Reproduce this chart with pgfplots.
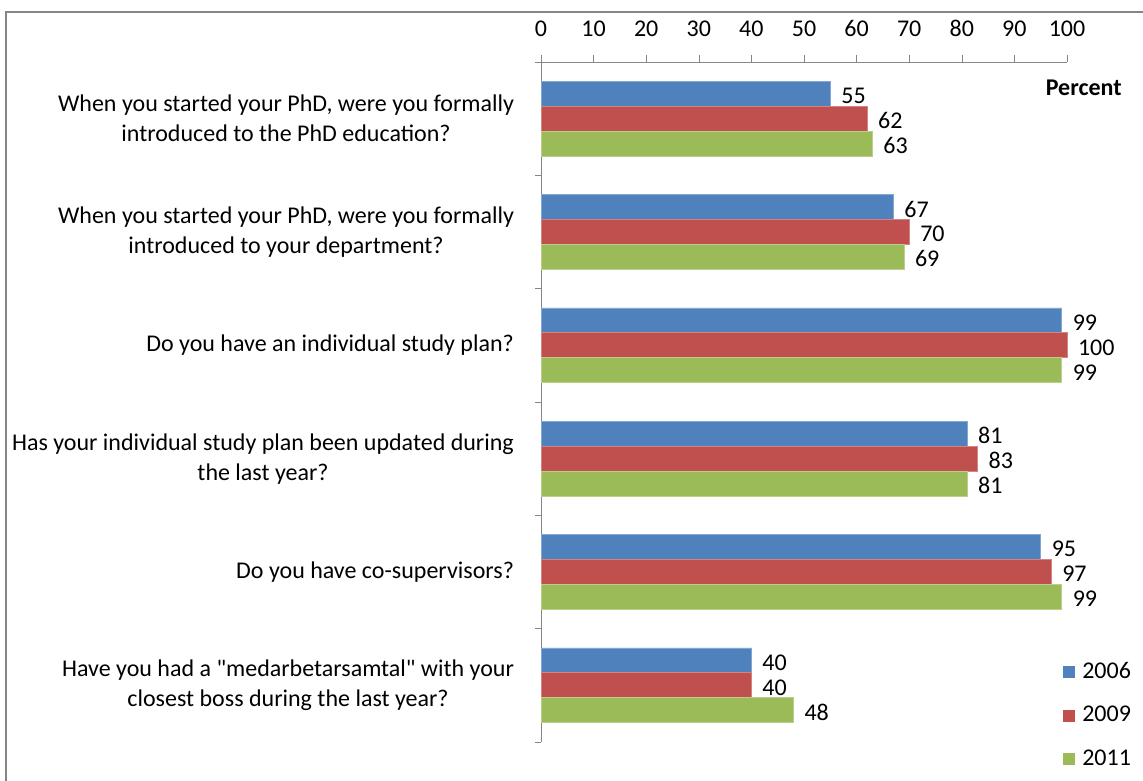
\documentclass[border=0pt]{standalone}
\usepackage{pgfplots}
\pgfplotsset{compat=1.18}
\usepackage{fontspec}
\setmainfont{Carlito}

\definecolor{c2006}{HTML}{4F81BD}
\definecolor{c2009}{HTML}{C0504D}
\definecolor{c2011}{HTML}{9BBB59}
\definecolor{axisgray}{HTML}{868686}

\newcommand{\lblfont}{\fontsize{12}{15}\selectfont}

\begin{document}
\begin{tikzpicture}
% page = 1143 x 780 px, 1 px = 0.5pt, origin top left
\useasboundingbox (0,0) rectangle (571.5pt,-390pt);
\draw[axisgray, line width=1.2pt] (3pt,-420pt) -- (3pt,-6pt) -- (600pt,-6pt);

\begin{axis}[%
    at={(270.5pt,-31pt)}, anchor=north west,
    scale only axis,
    width=263pt, height=340pt,
    xmin=0, xmax=100,
    ymin=-0.5, ymax=5.5,
    enlargelimits=false,
    clip=false,
    axis x line=top,
    axis y line=left,
    axis line style={-, axisgray},
    tick align=outside,
    xtick={0,10,...,100},
    major tick length=3.5pt,
    minor tick length=3pt,
    tick style={axisgray},
    major y tick style={draw=none},
    ytick={0,...,5},
    minor ytick={-0.5,0.5,...,5.5},
    yticklabels={%
        {Have you had a \textquotedbl medarbetarsamtal\textquotedbl\ with your\\closest boss during the last year?},
        {Do you have co-supervisors?},
        {Has your individual study plan been updated during\\the last year?},
        {Do you have an individual study plan?},
        {When you started your PhD, were you formally\\introduced to your department?},
        {When you started your PhD, were you formally\\introduced to the PhD education?}},
    yticklabel style={align=center, font=\lblfont, xshift=-6.5pt},
    xticklabel style={font=\lblfont, yshift=5.5pt},
    /pgf/number format/assume math mode=true,
    xbar,
    bar width=0.22,
    nodes near coords,
    nodes near coords style={font=\lblfont, anchor=west, xshift=2pt, yshift=-1pt, text=black},
    legend style={draw=none, fill=none, at={(0.98,0.13)}, anchor=north west,
        font=\lblfont, row sep=8.6pt},
    legend cell align=left,
    legend image code/.code={\fill[#1,draw=none] (0pt,-3pt) rectangle (6pt,3pt);
        \path (7.5pt,0pt);},
    ]

\addplot[fill=c2006, draw=c2006!70!white, bar shift=0.22]
    coordinates {(40,0) (95,1) (81,2) (99,3) (67,4) (55,5)};
\addplot[fill=c2009, draw=c2009!70!white, bar shift=0]
    coordinates {(40,0) (97,1) (83,2) (100,3) (70,4) (62,5)};
\addplot[fill=c2011, draw=c2011!70!white, bar shift=-0.22]
    coordinates {(48,0) (99,1) (81,2) (99,3) (69,4) (63,5)};

\legend{2006, 2009, 2011}
\end{axis}

\node[anchor=east, font=\lblfont\bfseries, inner sep=0pt] at (561pt,-44pt) {Percent};
\end{tikzpicture}
\end{document}
